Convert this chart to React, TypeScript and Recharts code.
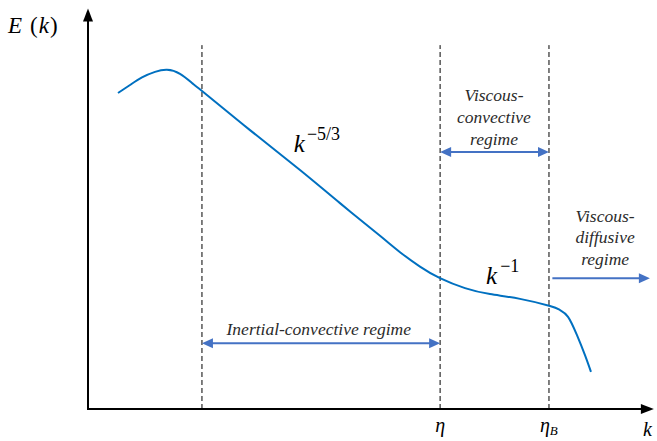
import React from "react";
import { LineChart, Line, XAxis, YAxis, ReferenceLine, ReferenceDot } from "recharts";

// Spectrum curve (arbitrary units: k 0..100, E 0..100)
const curveK = [5.29, 7.41, 9.52, 11.82, 13.93, 16.23, 18.34, 20.11, 28.57, 37.39, 44.44, 51.5, 55.03, 58.55, 62.08, 66.49, 70.9, 76.19, 81.48, 83.25, 84.66, 86.24, 87.65, 88.71];
const curveE = [79.2, 81.2, 83.1, 84.5, 85.0, 84.0, 81.7, 79.7, 69.9, 59.9, 51.6, 43.4, 39.3, 35.7, 32.8, 30.3, 28.8, 27.6, 25.8, 24.8, 23.1, 18.5, 13.5, 9.3];

// Regime boundaries (dashed verticals)
const boundaryK = [20.1, 62.1, 81.3];
const boundaryTop = 91.2;

// Regime arrows
const arrowStartK = [20.1, 62.1, 81.9];
const arrowEndK = [62.1, 81.3, 99.1];
const arrowE = [16.5, 64.4, 32.8];
const arrowBoth = [true, true, false];

// Text labels
const regimeLabels = [
  { k: 71.6, e: 77.2, text: "Viscous-" },
  { k: 71.6, e: 71.7, text: "convective" },
  { k: 71.6, e: 66.2, text: "regime" },
  { k: 91.2, e: 46.9, text: "Viscous-" },
  { k: 91.2, e: 41.6, text: "diffusive" },
  { k: 91.2, e: 36.1, text: "regime" },
  { k: 40.7, e: 18.5, text: "Inertial-convective regime" },
];

const data = curveK.map((k, i) => ({ k, E: curveE[i] }));

const BLUE = "#0070C0";
const ARROW = "#4472C4";
const FONT = "Liberation Serif, Times New Roman, serif";

const head = (x: number, y: number, dir: number, len: number, hw: number, color: string, key: string) => (
  <polygon key={key} points={`${x},${y} ${x - dir * len},${y - hw} ${x - dir * len},${y + hw}`} fill={color} />
);

const makeHArrow = (both: boolean, color: string, width: number, len: number, hw: number) => (p: any) => {
  const { x1, y1, x2 } = p;
  return (
    <g>
      <line x1={both ? x1 + len * 0.8 : x1} y1={y1} x2={x2 - len * 0.8} y2={y1} stroke={color} strokeWidth={width} />
      {both ? head(x1, y1, -1, len, hw, color, "a") : null}
      {head(x2, y1, 1, len, hw, color, "b")}
    </g>
  );
};

const yAxisShape = (p: any) => {
  const { x1, y1, y2 } = p;
  const top = Math.min(y1, y2);
  const bot = Math.max(y1, y2);
  return (
    <g>
      <line x1={x1} y1={bot + 1} x2={x1} y2={top + 10} stroke="#000" strokeWidth={2} />
      <polygon points={`${x1},${top} ${x1 - 5},${top + 13} ${x1 + 5},${top + 13}`} fill="#000" />
    </g>
  );
};

const xAxisShape = (p: any) => {
  const { x1, y1, x2 } = p;
  return (
    <g>
      <line x1={x1 - 1} y1={y1} x2={x2 - 10} y2={y1} stroke="#000" strokeWidth={2} />
      <polygon points={`${x2},${y1} ${x2 - 13},${y1 - 5} ${x2 - 13},${y1 + 5}`} fill="#000" />
    </g>
  );
};

const textDot = (render: (cx: number, cy: number) => React.ReactElement) => (p: any) => render(p.cx, p.cy);

export default function App() {
  return (
    <div style={{ position: "absolute", left: 0, top: 0, background: "#fff" }}>
      <LineChart width={657} height={441} data={data} margin={{ top: 10, left: 88, right: 2, bottom: 32 }}>
        <XAxis type="number" dataKey="k" domain={[0, 100]} hide />
        <YAxis type="number" domain={[0, 100]} hide width={0} />
        {boundaryK.map((k, i) => (
          <ReferenceLine
            key={"b" + i}
            segment={[{ x: k, y: 0 }, { x: k, y: boundaryTop }]}
            stroke="#000"
            strokeWidth={1}
            strokeDasharray="5 3"
            ifOverflow="visible"
          />
        ))}
        <ReferenceLine segment={[{ x: 0, y: 0 }, { x: 0, y: 100.4 }]} ifOverflow="visible" shape={yAxisShape} />
        <ReferenceLine segment={[{ x: 0, y: 0 }, { x: 99.8, y: 0 }]} ifOverflow="visible" shape={xAxisShape} />
        {arrowStartK.map((k, i) => (
          <ReferenceLine
            key={"a" + i}
            segment={[{ x: k, y: arrowE[i] }, { x: arrowEndK[i], y: arrowE[i] }]}
            ifOverflow="visible"
            shape={makeHArrow(arrowBoth[i], ARROW, 2, 11, 5)}
          />
        ))}
        <Line type="natural" dataKey="E" stroke={BLUE} strokeWidth={2} dot={false} isAnimationActive={false} />
        {regimeLabels.map((l, i) => (
          <ReferenceDot
            key={"t" + i}
            x={l.k}
            y={l.e}
            r={0}
            ifOverflow="visible"
            shape={textDot((cx, cy) => (
              <text x={cx} y={cy} textAnchor="middle" fontFamily={FONT} fontStyle="italic" fontSize={17.5} fill="#2b2b2b">
                {l.text}
              </text>
            ))}
          />
        ))}
        <ReferenceDot x={-14.1} y={94.2} r={0} ifOverflow="visible" shape={textDot((cx, cy) => (
          <text x={cx} y={cy} fontFamily={FONT} fontSize={23} fill="#000">
            <tspan fontStyle="italic">E</tspan>
            <tspan dx={8}>(</tspan>
            <tspan fontStyle="italic" dx={1}>k</tspan>
            <tspan dx={1}>)</tspan>
          </text>
        ))} />
        <ReferenceDot x={36.3} y={64.4} r={0} ifOverflow="visible" shape={textDot((cx, cy) => (
          <text x={cx} y={cy} fontFamily={FONT} fill="#000">
            <tspan fontStyle="italic" fontSize={25}>k</tspan>
            <tspan fontSize={18} dy={-12} dx={2}>−5/3</tspan>
          </text>
        ))} />
        <ReferenceDot x={70.2} y={31.3} r={0} ifOverflow="visible" shape={textDot((cx, cy) => (
          <text x={cx} y={cy} fontFamily={FONT} fill="#000">
            <tspan fontStyle="italic" fontSize={25}>k</tspan>
            <tspan fontSize={18} dy={-12} dx={3}>−1</tspan>
          </text>
        ))} />
        <ReferenceDot x={62.1} y={-5.8} r={0} ifOverflow="visible" shape={textDot((cx, cy) => (
          <text x={cx} y={cy} textAnchor="middle" fontFamily={FONT} fontStyle="italic" fontSize={20} fill="#000">η</text>
        ))} />
        <ReferenceDot x={79.7} y={-5.8} r={0} ifOverflow="visible" shape={textDot((cx, cy) => (
          <text x={cx} y={cy} fontFamily={FONT} fontSize={20} fontStyle="italic" fill="#000">
            <tspan>η</tspan>
            <tspan fontSize={13} dy={3}>B</tspan>
          </text>
        ))} />
        <ReferenceDot x={97.9} y={-6.8} r={0} ifOverflow="visible" shape={textDot((cx, cy) => (
          <text x={cx} y={cy} fontFamily={FONT} fontStyle="italic" fontSize={20} fill="#000">k</text>
        ))} />
      </LineChart>
    </div>
  );
}
